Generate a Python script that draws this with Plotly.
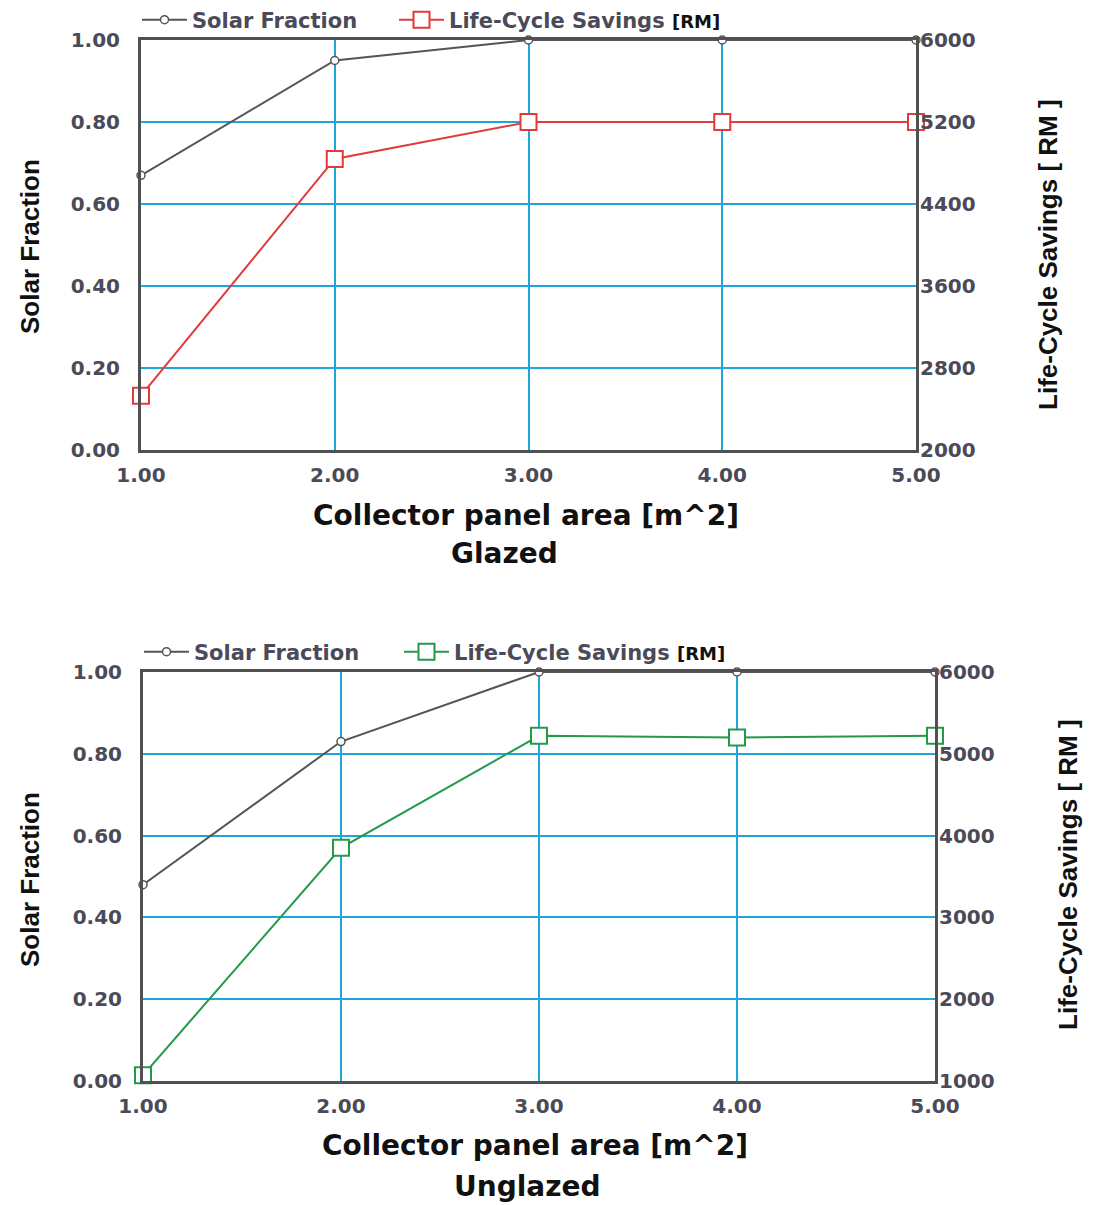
import plotly.graph_objects as go

# Collector panel area [m^2]
areas = [1, 2, 3, 4, 5]
x_ticks = [1, 2, 3, 4, 5]

# Glazed collector
sf_glazed = [0.67, 0.95, 1.00, 1.00, 1.00]
lcs_glazed = [2530, 4840, 5200, 5200, 5200]

# Unglazed collector
sf_unglazed = [0.48, 0.83, 1.00, 1.00, 1.00]
lcs_unglazed = [1070, 3850, 5220, 5200, 5220]

sf_ticks = [0.0, 0.2, 0.4, 0.6, 0.8, 1.0]
lcs_ticks_glazed = [2000, 2800, 3600, 4400, 5200, 6000]
lcs_ticks_unglazed = [1000, 2000, 3000, 4000, 5000, 6000]

W, H = 1095, 1205
FONT = "Liberation Sans, Arial, sans-serif"
WIDE = "DejaVu Sans, sans-serif"
FRAME = "#505050"
GRID = "#1ea5dc"
TICKCOL = "#4a4a58"
SF_COL = "#555555"
RED = "#e23b3b"
GREEN = "#23994a"


def px_x(p):
    return p / W


def px_y(p):
    return 1 - p / H


fig = go.Figure()


def add_panel(sf, lcs, col, xa, ya, ya2, leg_sf, leg_lcs):
    fig.add_trace(go.Scatter(
        x=areas, y=sf, name="Solar Fraction", xaxis=xa, yaxis=ya,
        mode="lines+markers", legend=leg_sf, cliponaxis=False,
        line=dict(color=SF_COL, width=2),
        marker=dict(symbol="circle", size=8, color="white",
                    line=dict(color=SF_COL, width=1.5)),
    ))
    fig.add_trace(go.Scatter(
        x=areas, y=lcs,
        name="Life-Cycle Savings <span style='color:#111;font-size:18px'>[RM]</span>",
        xaxis=xa, yaxis=ya2, mode="lines+markers", legend=leg_lcs, cliponaxis=False,
        line=dict(color=col, width=2),
        marker=dict(symbol="square", size=16, color="white",
                    line=dict(color=col, width=2)),
    ))


add_panel(sf_glazed, lcs_glazed, RED, "x", "y", "y2", "legend", "legend2")
add_panel(sf_unglazed, lcs_unglazed, GREEN, "x2", "y3", "y4", "legend3", "legend4")

tickfont = dict(family=WIDE, size=20, color=TICKCOL, weight="bold")


def xaxis_cfg(d0, d1, anchor):
    return dict(
        domain=[px_x(d0), px_x(d1)], anchor=anchor, range=[1, 5],
        tickvals=x_ticks, tickformat=".2f", tickfont=tickfont,
        showgrid=True, gridcolor=GRID, gridwidth=2,
        showline=True, linecolor=FRAME, linewidth=3, mirror=True,
        ticks="", ticklabelstandoff=5, zeroline=False, automargin=False,
    )


def yaxis_cfg(t0, t1, anchor):
    return dict(
        domain=[px_y(t1), px_y(t0)], anchor=anchor, range=[0, 1],
        tickvals=sf_ticks, tickformat=".2f", tickfont=tickfont,
        showgrid=True, gridcolor=GRID, gridwidth=2,
        showline=True, linecolor=FRAME, linewidth=3, mirror=True,
        ticks="", ticklabelstandoff=14, zeroline=False, automargin=False,
    )


def yaxis_right_cfg(over, anchor, rng, ticks):
    return dict(
        overlaying=over, anchor=anchor, side="right", range=rng,
        tickvals=ticks, tickformat="d", tickfont=tickfont,
        showgrid=False, showline=False, ticks="", ticklabelstandoff=3,
        zeroline=False, automargin=False,
    )


legend_font = dict(family=WIDE, size=21, color="#4a4a58", weight="bold")


def legend_cfg(x, y):
    return dict(
        x=px_x(x), y=px_y(y), xanchor="left", yanchor="middle",
        orientation="h", itemwidth=45, font=legend_font,
        bgcolor="rgba(0,0,0,0)",
    )


fig.update_layout(
    width=W, height=H,
    margin=dict(l=0, r=0, t=0, b=0, autoexpand=False),
    paper_bgcolor="white", plot_bgcolor="white",
    showlegend=True,
    xaxis=xaxis_cfg(141, 916, "y"),
    yaxis=yaxis_cfg(40, 450, "x"),
    yaxis2=yaxis_right_cfg("y", "x", [2000, 6000], lcs_ticks_glazed),
    xaxis2=xaxis_cfg(143, 935, "y3"),
    yaxis3=yaxis_cfg(672, 1081, "x2"),
    yaxis4=yaxis_right_cfg("y3", "x2", [1000, 6000], lcs_ticks_unglazed),
    legend=legend_cfg(137, 20),
    legend2=legend_cfg(394, 20),
    legend3=legend_cfg(139, 652),
    legend4=legend_cfg(399, 652),
)

title_font = dict(family=FONT, size=26, color="#111111", weight="bold")
xt_font = dict(family=WIDE, size=28, color="#111111", weight="bold")


def note(text, x, y, font, angle=0):
    fig.add_annotation(
        text=text, xref="paper", yref="paper", x=px_x(x), y=px_y(y),
        xanchor="center", yanchor="middle", showarrow=False,
        font=font, textangle=angle,
    )


# Glazed panel titles
note("Solar Fraction", 30, 247, title_font, -90)
note("Life-Cycle Savings [ RM ]", 1048, 255, title_font, -90)
note("Collector panel area [m^2]", 526, 515, xt_font)
note("Glazed", 504, 554, xt_font)

# Unglazed panel titles
note("Solar Fraction", 30, 880, title_font, -90)
note("Life-Cycle Savings [ RM ]", 1068, 875, title_font, -90)
note("Collector panel area [m^2]", 535, 1145, xt_font)
note("Unglazed", 527, 1186, xt_font)

fig.write_html("out.html")
